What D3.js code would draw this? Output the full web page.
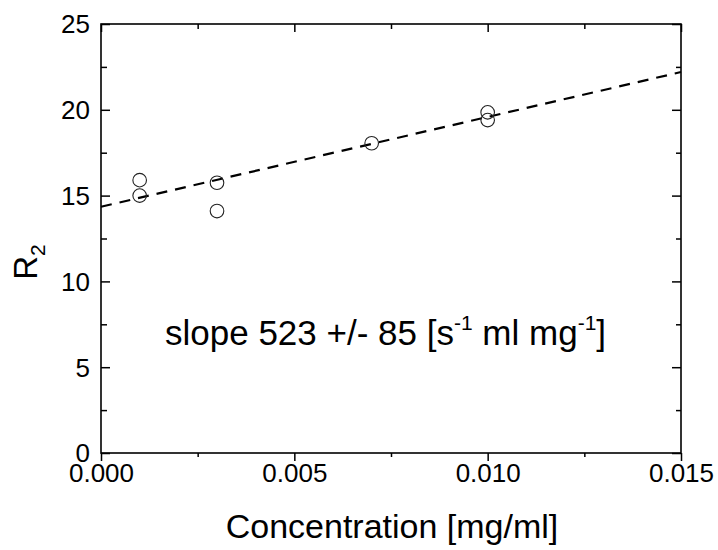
<!DOCTYPE html>
<html>
<head>
<meta charset="utf-8">
<script src="https://cdnjs.cloudflare.com/ajax/libs/d3/7.8.5/d3.min.js"></script>
<style>
    body { margin: 0; background: #fff; }
    svg text { font-family: "Liberation Sans", Arial, sans-serif; fill: #000; }
</style>
</head>
<body>
<svg id="chart" width="718" height="550"></svg>
<script>
    // measured points (concentration in mg/ml, R2 in 1/s)
    var conc = [0.001, 0.001, 0.003, 0.003, 0.007, 0.010, 0.010];
    var r2 = [15.9, 15.0, 15.75, 14.1, 18.05, 19.85, 19.4];

    // linear fit, end points
    var fitX = [0, 0.015];
    var fitY = [14.35, 22.2];

    var xTicks = [0, 0.005, 0.010, 0.015];
    var xMinor = [0.0025, 0.0075, 0.0125];
    var yTicks = [0, 5, 10, 15, 20, 25];
    var yMinor = [2.5, 7.5, 12.5, 17.5, 22.5];

    var svg = d3.select("#chart");
    var mL = 101, mR = 681, mT = 24, mB = 453;

    var x = d3.scaleLinear().domain([0, 0.015]).range([mL, mR]);
    var y = d3.scaleLinear().domain([0, 25]).range([mB, mT]);

    // bottom axis - ticks point outward
    var gx = svg.append("g").attr("transform", "translate(0," + mB + ")");
    gx.call(d3.axisBottom(x).tickValues(xTicks).tickSize(8).tickPadding(3)
        .tickFormat(d3.format(".3f")));
    gx.append("g").call(d3.axisBottom(x).tickValues(xMinor).tickSize(4).tickFormat(""));
    gx.selectAll(".domain").remove();
    gx.selectAll("text").style("font-size", "26px").attr("dy", "0.71em");

    // top axis - inward
    var gt = svg.append("g").attr("transform", "translate(0," + mT + ")");
    gt.call(d3.axisBottom(x).tickValues(xTicks).tickSize(8).tickFormat(""));
    gt.append("g").call(d3.axisBottom(x).tickValues(xMinor).tickSize(5).tickFormat(""));
    gt.selectAll(".domain").remove();

    // left axis - inward
    var gy = svg.append("g").attr("transform", "translate(" + mL + ",0)");
    gy.call(d3.axisRight(y).tickValues(yTicks).tickSize(9).tickFormat(""));
    gy.append("g").call(d3.axisRight(y).tickValues(yMinor).tickSize(6).tickFormat(""));
    gy.selectAll(".domain").remove();
    gy.selectAll(".ytl").data(yTicks).enter().append("text")
        .attr("x", -11)
        .attr("y", function(d) { return y(d); })
        .attr("dy", "0.36em")
        .attr("text-anchor", "end")
        .style("font-size", "26px")
        .text(function(d) { return d; });

    // right axis - inward
    var gr = svg.append("g").attr("transform", "translate(" + mR + ",0)");
    gr.call(d3.axisLeft(y).tickValues(yTicks).tickSize(9).tickFormat(""));
    gr.append("g").call(d3.axisLeft(y).tickValues(yMinor).tickSize(5).tickFormat(""));
    gr.selectAll(".domain").remove();

    svg.selectAll(".tick line").attr("stroke", "#000").attr("stroke-width", 1.5);

    // frame
    svg.append("rect")
        .attr("x", mL).attr("y", mT)
        .attr("width", mR - mL).attr("height", mB - mT)
        .attr("fill", "none").attr("stroke", "#000").attr("stroke-width", 1.6);

    // fit line
    svg.append("path")
        .datum(d3.zip(fitX, fitY))
        .attr("d", d3.line().x(function(d) { return x(d[0]); }).y(function(d) { return y(d[1]); }))
        .attr("fill", "none")
        .attr("stroke", "#000")
        .attr("stroke-width", 2.2)
        .attr("stroke-dasharray", "11,8");

    // points
    svg.selectAll("circle.pt").data(d3.zip(conc, r2)).enter().append("circle")
        .attr("class", "pt")
        .attr("cx", function(d) { return x(d[0]); })
        .attr("cy", function(d) { return y(d[1]); })
        .attr("r", 6.8)
        .attr("fill", "none")
        .attr("stroke", "#222")
        .attr("stroke-width", 1.1);

    // annotation
    var ann = svg.append("text").attr("x", 165).attr("y", 345).style("font-size", "35px");
    ann.append("tspan").text("slope 523 +/- 85 [s");
    ann.append("tspan").attr("dy", -15).style("font-size", "21px").text("-1");
    ann.append("tspan").attr("dy", 15).text(" ml mg");
    ann.append("tspan").attr("dy", -15).style("font-size", "21px").text("-1");
    ann.append("tspan").attr("dy", 15).text("]");

    // axis titles
    svg.append("text")
        .attr("x", (mL + mR) / 2 + 1)
        .attr("y", 538)
        .attr("text-anchor", "middle")
        .style("font-size", "34px")
        .text("Concentration [mg/ml]");

    var yt = svg.append("text")
        .attr("transform", "translate(37,262) rotate(-90)")
        .attr("text-anchor", "middle")
        .style("font-size", "33px");
    yt.append("tspan").text("R");
    yt.append("tspan").attr("dy", 8).style("font-size", "21px").text("2");
</script>
</body>
</html>
